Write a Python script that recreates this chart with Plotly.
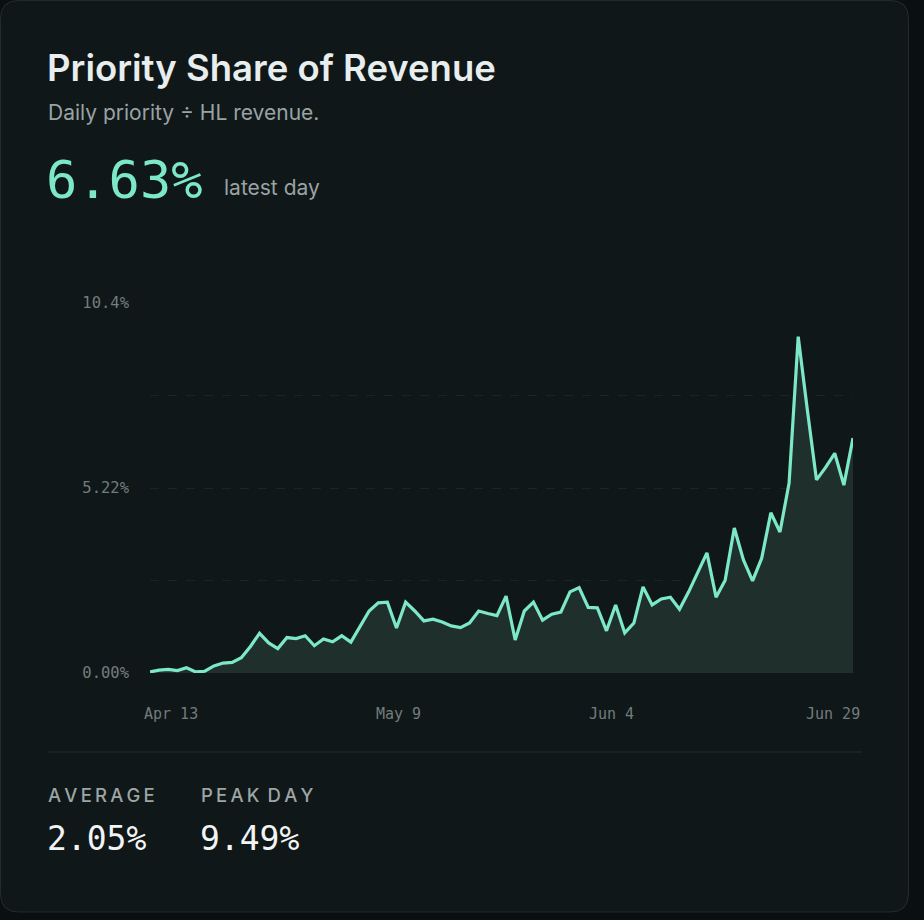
import plotly.graph_objects as go
import pandas as pd

# ---------------- data ----------------
dates = pd.date_range("2025-04-13", "2025-06-29", freq="D")
share_pct = [
    0.03, 0.08, 0.10, 0.07, 0.15, 0.03, 0.05, 0.20, 0.28, 0.30,
    0.43, 0.75, 1.12, 0.85, 0.69, 1.00, 0.97, 1.05, 0.77, 0.96,
    0.88, 1.05, 0.87, 1.30, 1.75, 1.98, 2.00, 1.27, 2.00, 1.75,
    1.47, 1.52, 1.44, 1.33, 1.28, 1.41, 1.75, 1.68, 1.62, 2.17,
    0.93, 1.75, 2.00, 1.49, 1.66, 1.72, 2.29, 2.41, 1.85, 1.84,
    1.19, 1.92, 1.13, 1.41, 2.43, 1.92, 2.09, 2.14, 1.80, 2.29,
    2.85, 3.39, 2.14, 2.62, 4.09, 3.19, 2.60, 3.24, 4.52, 3.98,
    5.36, 9.49, 7.42, 5.45, 5.80, 6.20, 5.30, 6.63,
]
x_tick_labels = ["Apr 13", "May 9", "Jun 4", "Jun 29"]
y_tick_vals = [0, 2.61, 5.22, 7.83, 10.44]
y_tick_text = ["0.00%", "", "5.22%", "", "10.4%"]
title_text = "Priority Share of Revenue"
subtitle_text = "Daily priority ÷ HL revenue."
latest_text = "6.63%"
latest_label = "latest day"
stat_labels = ["AVERAGE", "PEAK DAY"]
stat_values = ["2.05%", "9.49%"]

# ---------------- geometry helpers ----------------
W, H = 924, 920
L, R, T, B = 150, 71, 303, 247
PW, PH = W - L - R, H - T - B


def fx(px):
    return (px - L) / PW


def fy(py):
    return (T + PH - py) / PH


MINT = "#7de8c6"
BG_OUT = "#0a1011"
CARD = "#0f1718"
MONO = "DejaVu Sans Mono"
SANS = "Inter"
AXIS_GRAY = "#737c7c"

fig = go.Figure()
fig.add_trace(go.Scatter(
    x=dates, y=share_pct, mode="lines",
    line=dict(color=MINT, width=3.2),
    fill="tozeroy", fillcolor="#1f2f2b",
    hoverinfo="skip", showlegend=False,
))


# card with rounded corners
def card_path(x0, y0, x1, y1, r):
    pts = [
        ("M", fx(x0 + r), fy(y0)),
        ("L", fx(x1 - r), fy(y0)),
        ("Q", fx(x1), fy(y0), fx(x1), fy(y0 + r)),
        ("L", fx(x1), fy(y1 - r)),
        ("Q", fx(x1), fy(y1), fx(x1 - r), fy(y1)),
        ("L", fx(x0 + r), fy(y1)),
        ("Q", fx(x0), fy(y1), fx(x0), fy(y1 - r)),
        ("L", fx(x0), fy(y0 + r)),
        ("Q", fx(x0), fy(y0), fx(x0 + r), fy(y0)),
    ]
    s = ""
    for p in pts:
        cmd, *vals = p
        s += cmd + " " + " ".join(
            f"{vals[i]:.5f},{vals[i+1]:.5f}" for i in range(0, len(vals), 2)) + " "
    return s + "Z"


shapes = [
    dict(type="path", xref="paper", yref="paper", layer="below",
         path=card_path(0.5, 0.5, 908.5, 912, 18),
         fillcolor=CARD, line=dict(color="rgba(255,255,255,0.10)", width=1)),
    dict(type="line", xref="paper", yref="paper", layer="below",
         x0=fx(48), x1=fx(862), y0=fy(752), y1=fy(752),
         line=dict(color="rgba(255,255,255,0.09)", width=1)),
]

ann = []


def text(px, py, s, size, color, family, anchor="left", weight=None):
    f = dict(size=size, color=color, family=family)
    if weight:
        f["weight"] = weight
    ann.append(dict(xref="paper", yref="paper", x=fx(px), y=fy(py), text=s,
                    showarrow=False, xanchor=anchor, yanchor="middle", font=f))


text(45, 68, title_text, 36.5, "#e8eded", SANS, weight=600)
text(46, 113, subtitle_text, 21, "#9aa3a3", SANS)
text(44, 180, latest_text, 52, MINT, MONO)
text(222, 187, latest_label, 21, "#9aa3a3", SANS)

# x tick labels (evenly distributed row)
text(142, 714, x_tick_labels[0], 15, AXIS_GRAY, MONO, "left")
text(398, 714, x_tick_labels[1], 15, AXIS_GRAY, MONO, "center")
text(611, 714, x_tick_labels[2], 15, AXIS_GRAY, MONO, "center")
text(862, 714, x_tick_labels[3], 15, AXIS_GRAY, MONO, "right")

# stats
thin = "\u2009"
for i, (lab, val) in enumerate(zip(stat_labels, stat_values)):
    x0 = [46, 199][i]
    text(x0, 795, thin.join(lab).replace(thin + " " + thin, " " + thin), 18.5, "#9ea5a5", SANS, weight=500)
    text(x0 - 1, 838, val, 33, "#f2f4f4", MONO)

fig.update_layout(
    width=W, height=H,
    margin=dict(l=L, r=R, t=T, b=B),
    paper_bgcolor=BG_OUT, plot_bgcolor="rgba(0,0,0,0)",
    shapes=shapes, annotations=ann,
    xaxis=dict(range=[dates[0], dates[-1]], showgrid=False, zeroline=False,
               showticklabels=False, showline=False, fixedrange=True),
    yaxis=dict(range=[0, 10.44], tickvals=y_tick_vals, ticktext=y_tick_text,
               showgrid=True, gridcolor="rgba(255,255,255,0.06)", griddash="dash",
               gridwidth=1, zeroline=False, showline=False,
               tickfont=dict(family=MONO, size=15.5, color=AXIS_GRAY),
               ticklabelstandoff=20, fixedrange=True),
)

fig.write_html("out.html")
